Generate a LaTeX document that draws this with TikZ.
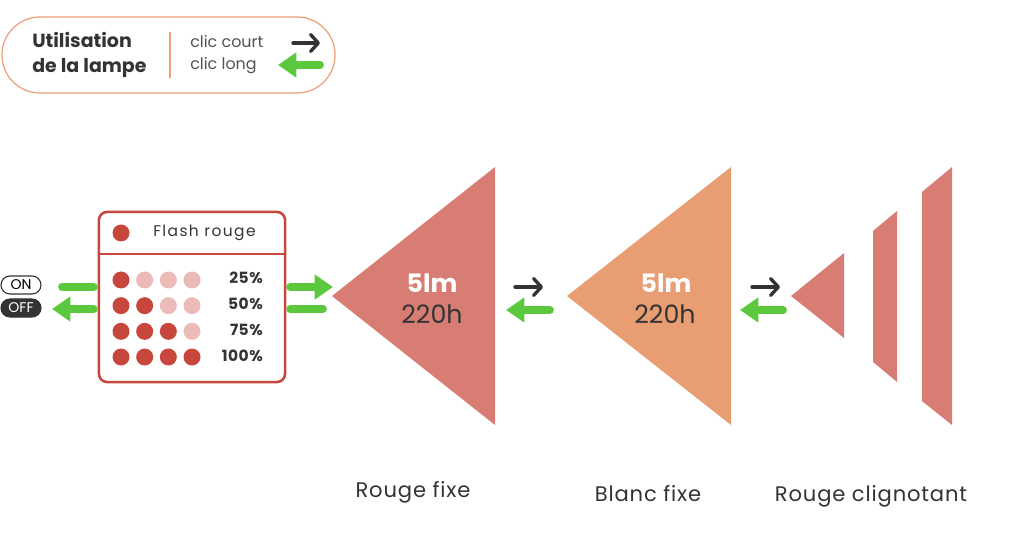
\documentclass[tikz,border=0pt]{standalone}
\usepackage{fontspec}
\setmainfont{Poppins}
\usetikzlibrary{positioning, arrows.meta, calc}
\usepackage{xcolor}

\definecolor{lampred}{HTML}{C8473D}
\definecolor{lamppale}{HTML}{EBBCB7}
\definecolor{beamred}{HTML}{D87D74}
\definecolor{beamorange}{HTML}{E89D73}
\definecolor{legendline}{HTML}{EDA07A}
\definecolor{clicgreen}{HTML}{5BC83E}
\definecolor{inkgray}{HTML}{333333}

\begin{document}
\begin{tikzpicture}[
    x=0.025cm, y=-0.025cm,
    legendbox/.style={draw=legendline, line width=0.9pt, rounded corners=0.95cm, minimum width=8.325cm, minimum height=1.9cm, inner sep=0pt},
    pill/.style={draw=inkgray, line width=0.8pt, rounded corners=0.225cm, minimum width=1.0cm, minimum height=0.45cm, inner sep=0pt, font=\fontsize{10}{11}\selectfont},
    flashbox/.style={draw=lampred, line width=1.8pt, rounded corners=0.2cm, minimum width=4.65cm, minimum height=4.25cm, inner sep=0pt},
    pct/.style={anchor=base east, inner sep=0pt, text=inkgray, font=\fontsize{11}{12}\selectfont\bfseries\addfontfeature{LetterSpace=3}},
    lumen/.style={anchor=base, inner sep=0pt, text=white, font=\fontsize{18}{20}\selectfont\bfseries},
    hours/.style={anchor=base, inner sep=0pt, text=inkgray, font=\fontsize{18}{20}\selectfont},
    modelabel/.style={anchor=base, inner sep=0pt, text=inkgray, font=\fontsize{15}{17}\selectfont\addfontfeature{LetterSpace=4}},
    shortclic/.style={-{Straight Barb[length=5.5pt, width=12pt, line cap=round, line join=round]}, draw=inkgray, line width=2.4pt, line cap=round},
    longclic/.style={-{Triangle[length=13pt, width=17pt]}, draw=clicgreen, line width=5.5pt, line cap=round},
    greenbar/.style={draw=clicgreen, line width=5.5pt, line cap=round}
]
    \useasboundingbox (0,0) rectangle (1024,543);

    % legend
    \node[legendbox] (legend) at (168.5,55) {};
    \node[anchor=west, inner sep=0pt, align=left, text=inkgray, font=\fontsize{13.5}{17.5}\selectfont\bfseries] (title) at (32,55) {Utilisation\\de la lampe};
    \draw[legendline, line width=0.9pt] (170,32) -- (170,78);
    \node[anchor=base west, inner sep=0pt, text=inkgray!85, font=\fontsize{11.3}{12}\selectfont] (court) at (190,48) {clic court};
    \node[anchor=base west, inner sep=0pt, text=inkgray!85, font=\fontsize{11.3}{12}\selectfont] (long) at (190,70) {clic long};
    \coordinate (kc0) at (293,43);
    \coordinate (kc1) at (320,43);
    \coordinate (kl0) at (320,65);
    \coordinate (kl1) at (278,65);
    \draw[shortclic] (kc0) -- (kc1);
    \draw[longclic] (kl0) -- (kl1);

    % on / off
    \node[pill] (on) at (21,285) {ON};
    \node[pill, fill=inkgray, text=white] (off) at (21,308) {OFF};

    % flash box
    \node[flashbox] (flash) at (192,297) {};
    \draw[lampred, line width=1.8pt] (flash.west |- 0,254) -- (flash.east |- 0,254);
    \fill[lampred] (121,233) circle (8.5);
    \node[anchor=base west, inner sep=0pt, text=inkgray, font=\fontsize{11}{12}\selectfont\addfontfeature{LetterSpace=9}] (flashtitle) at (153,237) {Flash rouge};
    \foreach \lvl [count=\r] in {25,50,75,100} {
        \foreach \c in {1,...,4} {
            \ifnum\c>\r \def\dotcol{lamppale}\else\def\dotcol{lampred}\fi
            \fill[\dotcol] ({121+23.67*(\c-1)},{280+25.67*(\r-1)}) circle (8.5);
        }
        \node[pct] (pct\r) at (263,{284+25.67*(\r-1)}) {\lvl\%};
    }

    \coordinate (onbar) at (62,287);
    \coordinate (offtip) at (52,309);
    \coordinate (redtip) at (333,287);
    \coordinate (redbar) at (323,309);
    \draw[greenbar, shorten >=2.75pt] (onbar) -- (flash.west |- onbar);
    \draw[longclic, shorten <=2.75pt] (flash.west |- offtip) -- (offtip);
    \draw[longclic, shorten <=2.75pt] (flash.east |- redtip) -- (redtip);
    \draw[greenbar, shorten >=2.75pt] (redbar) -- (flash.east |- redbar);

    % beams
    \fill[beamred] (332,296) -- (495,167) -- (495,425) -- cycle;
    \node[lumen] (lm1) at (432,293) {5lm};
    \node[hours] (h1) at (432,324) {220h};

    \fill[beamorange] (567,296) -- (731,167) -- (731,425) -- cycle;
    \node[lumen] (lm2) at (666,293) {5lm};
    \node[hours] (h2) at (665,324) {220h};

    \fill[beamred] (791,296) -- (844,253) -- (844,338) -- cycle;
    \fill[beamred] (873,231) -- (897,211) -- (897,382) -- (873,362) -- cycle;
    \fill[beamred] (922,192) -- (952,167) -- (952,425) -- (922,401) -- cycle;

    % clics between beams
    \coordinate (sa1) at (515,287);
    \coordinate (sb1) at (543,287);
    \coordinate (la1) at (550,310);
    \coordinate (lb1) at (506,310);
    \coordinate (sa2) at (752,287);
    \coordinate (sb2) at (780,287);
    \coordinate (la2) at (783,310);
    \coordinate (lb2) at (740,310);
    \draw[shortclic] (sa1) -- (sb1);
    \draw[longclic] (la1) -- (lb1);
    \draw[shortclic] (sa2) -- (sb2);
    \draw[longclic] (la2) -- (lb2);

    % mode names
    \node[modelabel] (rouge) at (413,497) {Rouge fixe};
    \node[modelabel] (blanc) at (648,501) {Blanc fixe};
    \node[modelabel] (cligno) at (871,501) {Rouge clignotant};
\end{tikzpicture}
\end{document}
